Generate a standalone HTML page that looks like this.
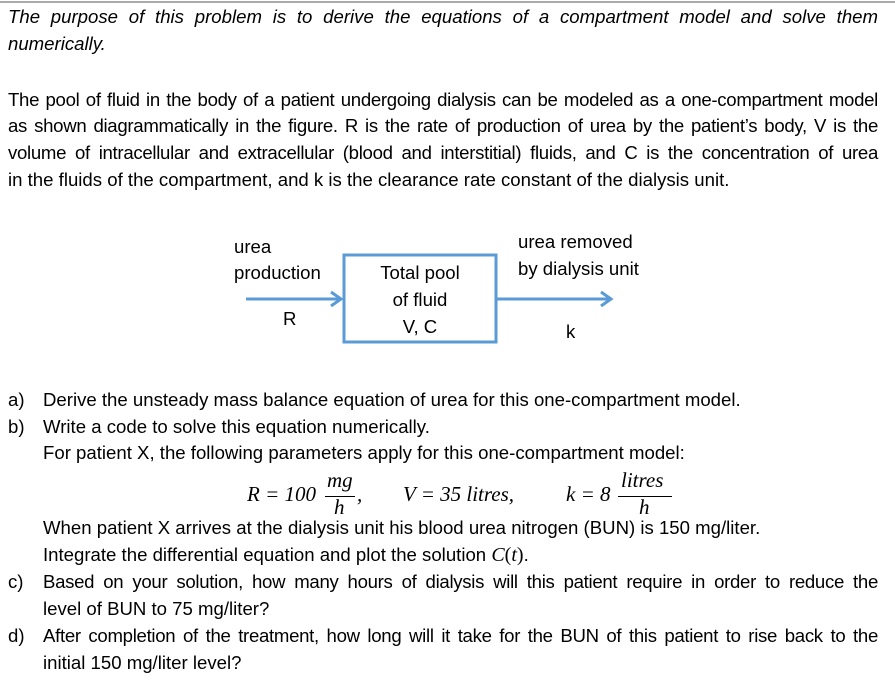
<!DOCTYPE html>
<html><head><meta charset="utf-8"><style>
body{margin:0;width:895px;height:700px;background:#fff;position:relative;overflow:hidden;font-family:"Liberation Sans",sans-serif;font-size:18.6px;color:#000}
.l{position:absolute;white-space:nowrap;line-height:20px;height:20px}
.j{text-align:justify;text-align-last:justify;white-space:normal;overflow:visible}
.i{font-style:italic}
.m{position:absolute;font-family:"Liberation Serif",serif;font-size:21px;font-style:italic;line-height:20px;white-space:nowrap}
.fr{position:absolute;border-top:1.3px solid #000}
</style></head><body>
<div style="position:absolute;left:0;top:1px;width:895px;height:2px;background:#aaa"></div>
<div class="l j i" style="left:8px;top:7px;width:870px">The purpose of this problem is to derive the equations of a compartment model and solve them</div>
<div class="l i" style="left:8px;top:34px">numerically.</div>

<div class="l j" style="left:8px;top:90px;width:870px;letter-spacing:-0.3px">The pool of fluid in the body of a patient undergoing dialysis can be modeled as a one-compartment model</div>
<div class="l j" style="left:8px;top:116px;width:870px;letter-spacing:-0.3px">as shown diagrammatically in the figure. R is the rate of production of urea by the patient’s body, V is the</div>
<div class="l j" style="left:8px;top:143px;width:870px;letter-spacing:-0.3px">volume of intracellular and extracellular (blood and interstitial) fluids, and C is the concentration of urea</div>
<div class="l" style="left:8px;top:170px">in the fluids of the compartment, and k is the clearance rate constant of the dialysis unit.</div>

<svg style="position:absolute;left:0;top:0" width="895" height="700">
<rect x="344" y="255" width="152" height="87" fill="none" stroke="#5b9bd5" stroke-width="3"/>
<line x1="246" y1="299" x2="340" y2="299" stroke="#5b9bd5" stroke-width="3"/>
<polyline points="331,292 341,299 331,306" fill="none" stroke="#5b9bd5" stroke-width="3"/>
<line x1="497" y1="299" x2="610" y2="299" stroke="#5b9bd5" stroke-width="3"/>
<polyline points="601,292 611,299 601,306" fill="none" stroke="#5b9bd5" stroke-width="3"/>
</svg>
<div class="l" style="left:234px;top:237px">urea</div>
<div class="l" style="left:234px;top:263px">production</div>
<div class="l" style="left:283px;top:309px">R</div>
<div class="l" style="left:344px;top:263px;width:152px;text-align:center">Total pool</div>
<div class="l" style="left:344px;top:290px;width:152px;text-align:center">of fluid</div>
<div class="l" style="left:344px;top:317px;width:152px;text-align:center">V, C</div>
<div class="l" style="left:518px;top:232px">urea removed</div>
<div class="l" style="left:518px;top:259px">by dialysis unit</div>
<div class="l" style="left:566px;top:322px">k</div>

<div class="l" style="left:8px;top:390px">a)</div>
<div class="l" style="left:43px;top:390px">Derive the unsteady mass balance equation of urea for this one-compartment model.</div>
<div class="l" style="left:8px;top:417px">b)</div>
<div class="l" style="left:43px;top:417px">Write a code to solve this equation numerically.</div>
<div class="l" style="left:43px;top:443px">For patient X, the following parameters apply for this one-compartment model:</div>

<div class="m" style="left:247px;top:484px">R = 100</div>
<div class="m" style="left:327px;top:470px">mg</div>
<div class="fr" style="left:325px;top:496px;width:30px"></div>
<div class="m" style="left:334px;top:497px">h</div>
<div class="m" style="left:357px;top:484px">,</div>
<div class="m" style="left:403px;top:484px">V = 35 litres,</div>
<div class="m" style="left:566px;top:484px">k = 8</div>
<div class="m" style="left:621px;top:470px">litres</div>
<div class="fr" style="left:618px;top:496px;width:54px"></div>
<div class="m" style="left:639px;top:497px">h</div>

<div class="l" style="left:43px;top:518px">When patient X arrives at the dialysis unit his blood urea nitrogen (BUN) is 150 mg/liter.</div>
<div class="l" style="left:43px;top:545px">Integrate the differential equation and plot the solution <span style="font-family:'Liberation Serif',serif;font-style:italic;font-size:20px">C</span><span style="font-family:'Liberation Serif',serif;font-size:20px">(</span><span style="font-family:'Liberation Serif',serif;font-style:italic;font-size:20px">t</span><span style="font-family:'Liberation Serif',serif;font-size:20px">)</span>.</div>
<div class="l" style="left:8px;top:572px">c)</div>
<div class="l j" style="left:43px;top:572px;width:835px;letter-spacing:-0.3px">Based on your solution, how many hours of dialysis will this patient require in order to reduce the</div>
<div class="l" style="left:43px;top:599px">level of BUN to 75 mg/liter?</div>
<div class="l" style="left:8px;top:626px">d)</div>
<div class="l j" style="left:43px;top:626px;width:835px;letter-spacing:-0.3px">After completion of the treatment, how long will it take for the BUN of this patient to rise back to the</div>
<div class="l" style="left:43px;top:653px">initial 150 mg/liter level?</div>
</body></html>
